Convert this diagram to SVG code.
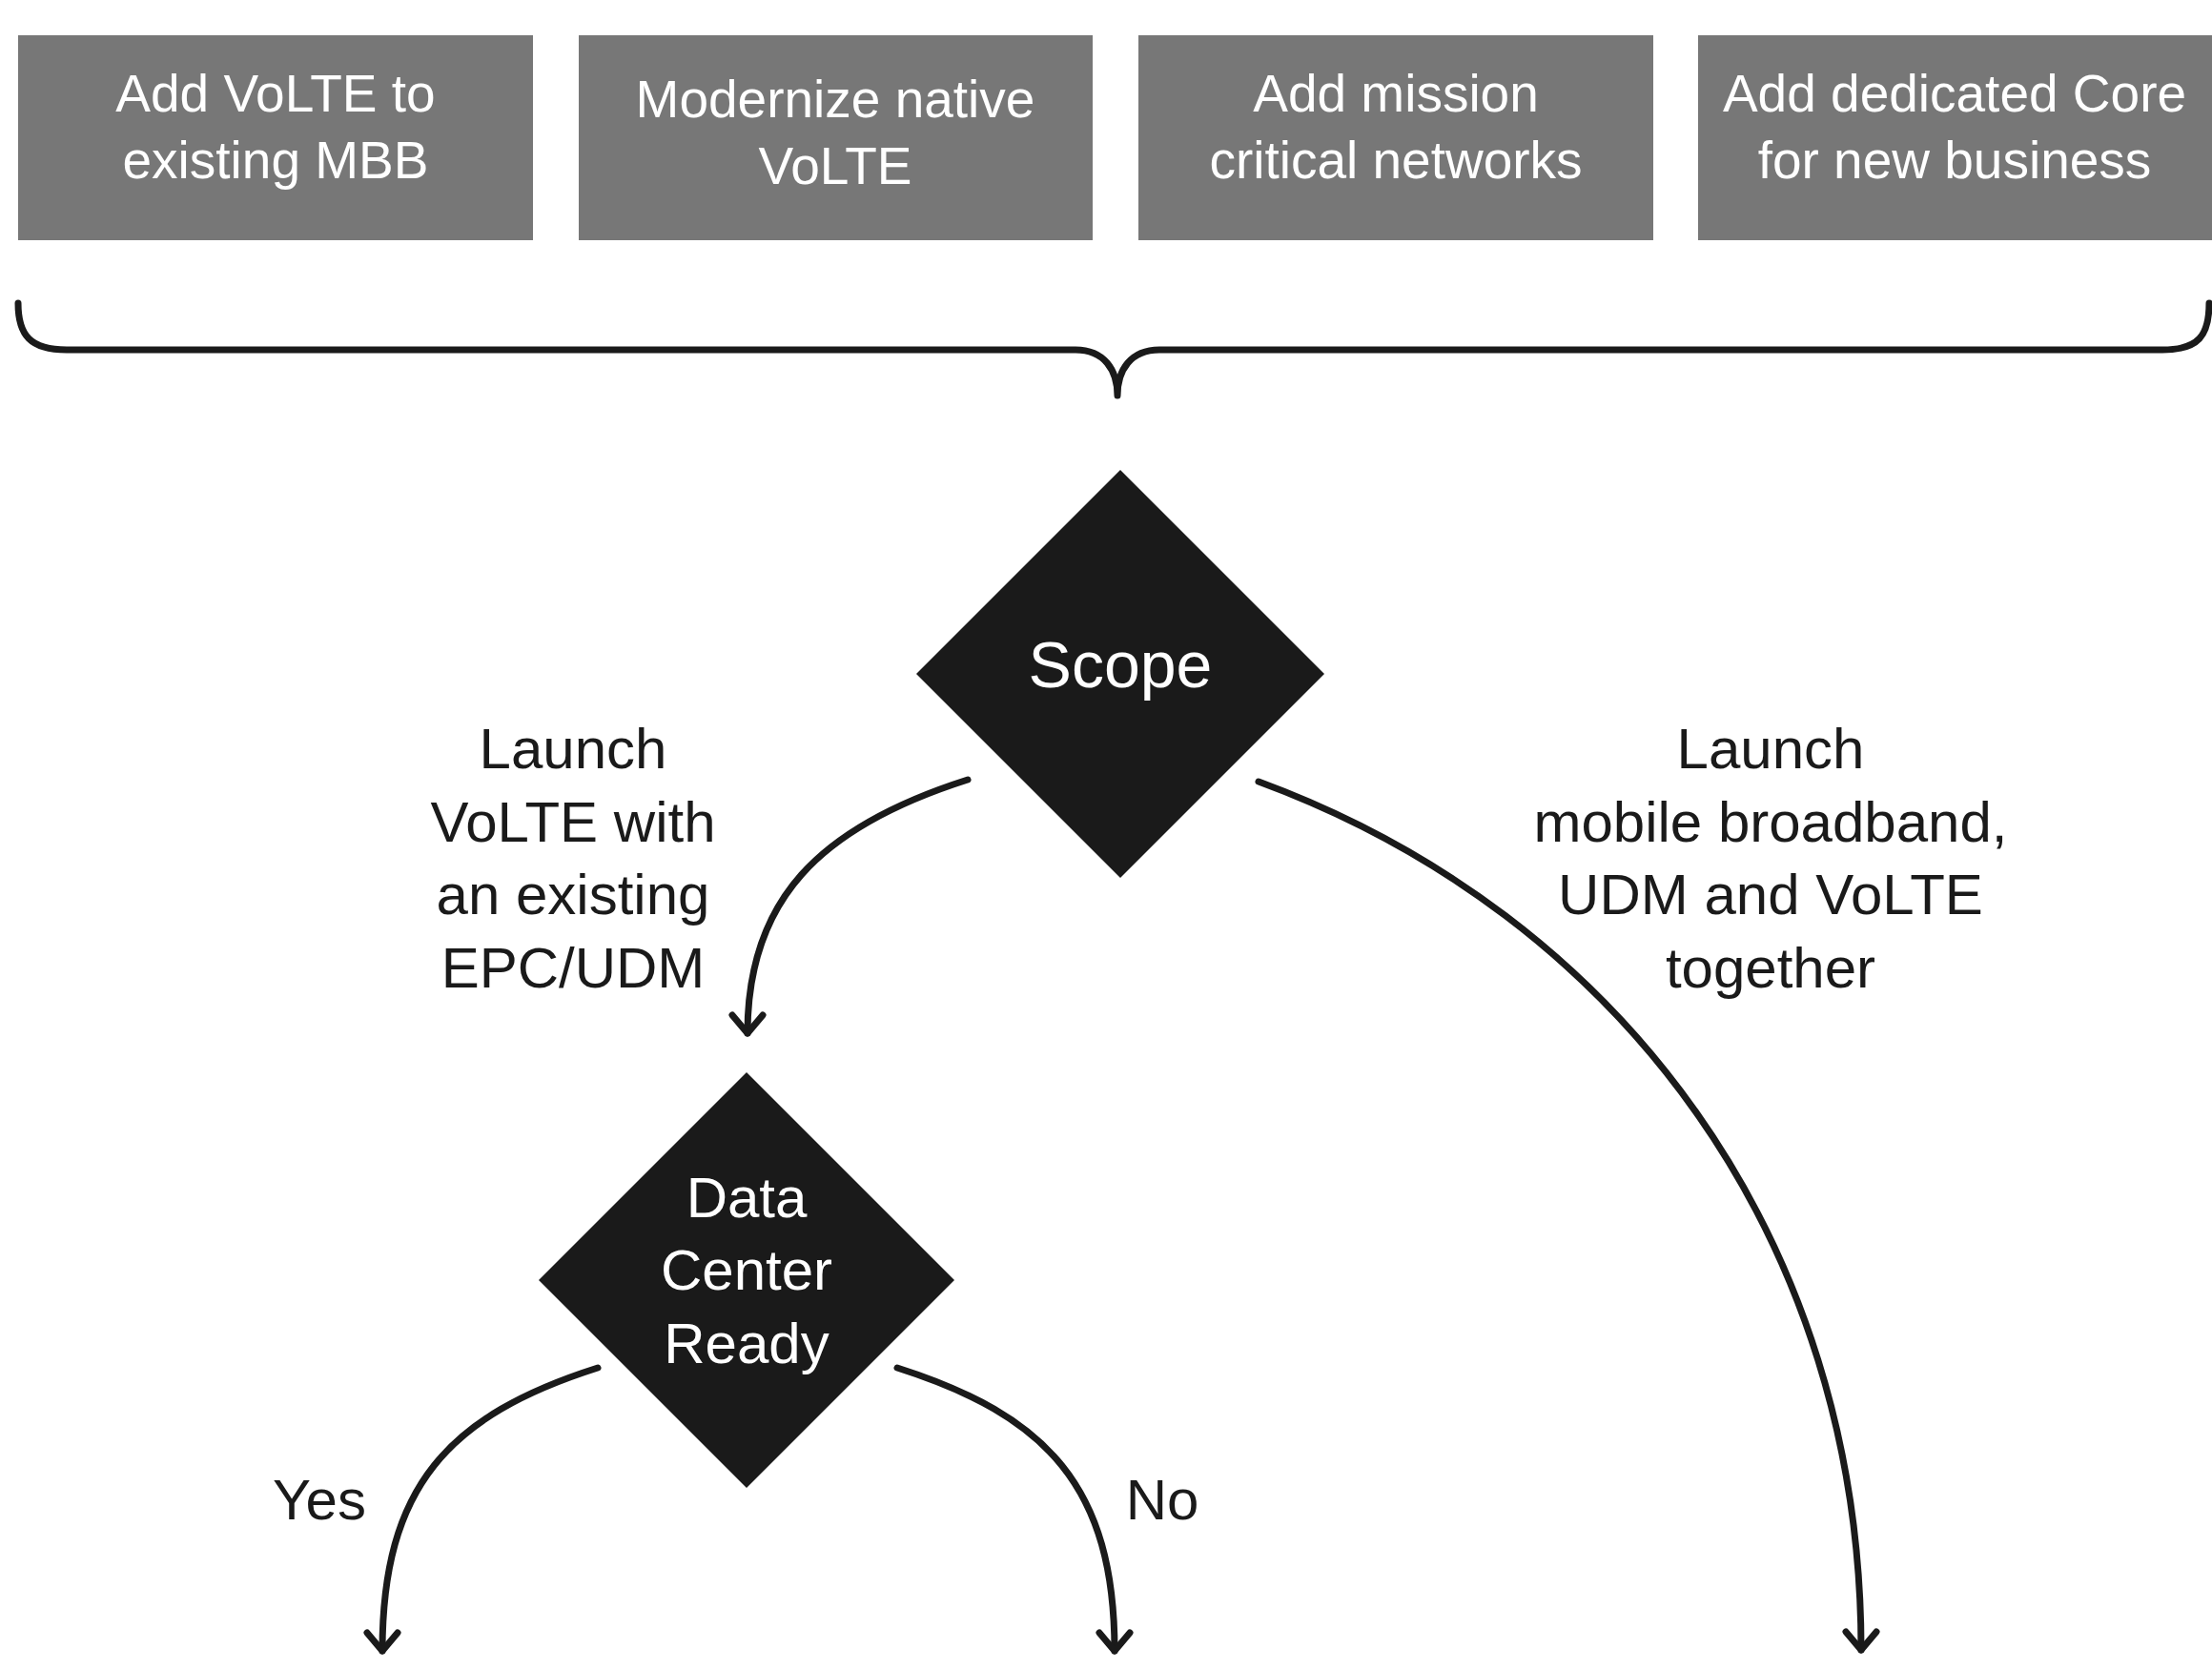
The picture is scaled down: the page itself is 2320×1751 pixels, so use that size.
<svg xmlns="http://www.w3.org/2000/svg" width="2320" height="1751" viewBox="0 0 2320 1751">
<defs>
<style>
.box{fill:#777777}
.bt{fill:#ffffff;font-family:"Liberation Sans",Arial,sans-serif;font-size:55px;text-anchor:middle}
.dia{fill:#1a1a1a}
.dt{fill:#ffffff;font-family:"Liberation Sans",Arial,sans-serif;font-size:60px;text-anchor:middle}
.lbl{fill:#1a1a1a;font-family:"Liberation Sans",Arial,sans-serif;font-size:60px;text-anchor:middle}
.con{fill:none;stroke:#1a1a1a;stroke-width:7;stroke-linecap:round;stroke-linejoin:round}
</style>
<marker id="chev" markerUnits="userSpaceOnUse" viewBox="-30 -30 60 60" markerWidth="60" markerHeight="60" refX="0" refY="0" orient="auto" overflow="visible">
<path d="M -19,-16 L 0,0 L -19,16" fill="none" stroke="#1a1a1a" stroke-width="7" stroke-linecap="round" stroke-linejoin="round"/>
</marker>
</defs>
<rect width="2320" height="1751" fill="#ffffff"/>
<g id="box1"><rect class="box" x="19" y="37" width="540" height="215"/><text class="bt" x="289" y="117">Add VoLTE to</text><text class="bt" x="289" y="187">existing MBB</text></g>
<g id="box2"><rect class="box" x="607" y="37" width="539" height="215"/><text class="bt" x="876" y="123">Modernize native</text><text class="bt" x="876" y="193">VoLTE</text></g>
<g id="box3"><rect class="box" x="1194" y="37" width="540" height="215"/><text class="bt" x="1464" y="117">Add mission</text><text class="bt" x="1464" y="187">critical networks</text></g>
<g id="box4"><rect class="box" x="1781" y="37" width="539" height="215"/><text class="bt" x="2050" y="117">Add dedicated Core</text><text class="bt" x="2050" y="187">for new business</text></g>
<g id="scope"><polygon class="dia" points="1175,493 1389,707 1175,921 961,707"/><text class="dt" style="font-size:68px" x="1175" y="721">Scope</text></g>
<g id="dc"><polygon class="dia" points="783,1125 1001,1343 783,1561 565,1343"/><text class="dt" x="783" y="1277">Data</text><text class="dt" x="783" y="1353">Center</text><text class="dt" x="783" y="1430">Ready</text></g>
<g id="labels">
<text class="lbl" x="601" y="806">Launch</text>
<text class="lbl" x="601" y="883">VoLTE with</text>
<text class="lbl" x="601" y="959">an existing</text>
<text class="lbl" x="601" y="1036">EPC/UDM</text>
<text class="lbl" x="1857" y="806">Launch</text>
<text class="lbl" x="1857" y="883">mobile broadband,</text>
<text class="lbl" x="1857" y="959">UDM and VoLTE</text>
<text class="lbl" x="1857" y="1036">together</text>
<text class="lbl" x="335" y="1594">Yes</text>
<text class="lbl" x="1219" y="1594">No</text>
</g>
<g id="connectors">
<path class="con" d="M 19,318 C 19,352 32,367 70,367 L 1128,367 C 1158,367 1172,388 1172,415 C 1172,388 1186,367 1216,367 L 2268,367 C 2306,367 2317,352 2317,318"/>
<path class="con" marker-end="url(#chev)" d="M 1015,818 C 858,868 784,945 784,1084"/>
<path class="con" marker-end="url(#chev)" d="M 1320,820 C 1700,960 1952,1300 1952,1731"/>
<path class="con" marker-end="url(#chev)" d="M 627,1435 C 470,1485 401,1560 401,1732"/>
<path class="con" marker-end="url(#chev)" d="M 941,1435 C 1098,1485 1169,1560 1169,1732"/>
</g>
</svg>
